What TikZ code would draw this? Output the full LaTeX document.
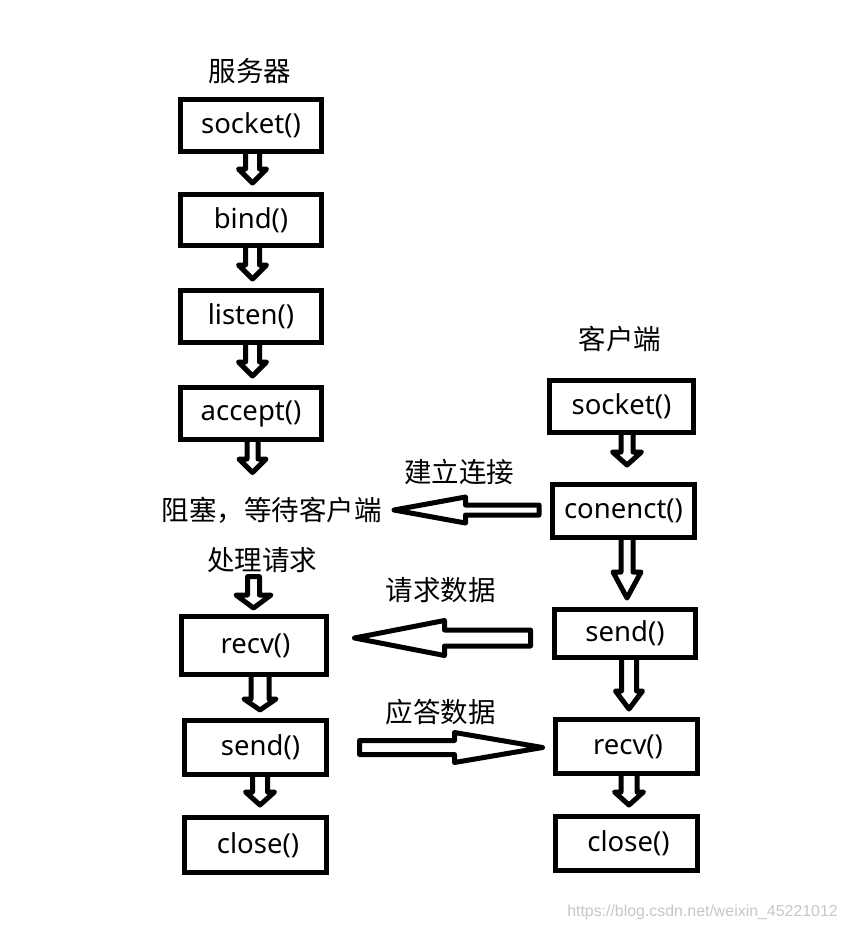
\documentclass[tikz,border=0pt]{standalone}
\usepackage{fontspec}
\setmainfont{Noto Sans}
\newfontfamily\cjk{Noto Sans CJK SC}
\newfontfamily\wmfont{Liberation Sans}
\usetikzlibrary{calc}
\tikzset{
  box/.style={draw, line width=5pt, inner sep=0pt, outer sep=0pt,
    font=\fontsize{27.5}{30}\selectfont},
  lbl/.style={inner sep=0pt, outer sep=0pt, font=\cjk\fontsize{27.5}{30}\selectfont},
  fat/.style={draw, line width=5pt, line join=round},
}
% down arrow: #1 start, #2 tip, #3 shaft half width, #4 head half width, #5 head length
\newcommand\fatdown[5]{\draw[fat] let \p1=#1, \p2=#2 in
  (\x2-#3pt,\y1) -- (\x2-#3pt,\y2+#5pt) -- (\x2-#4pt,\y2+#5pt) -- (\x2,\y2)
  -- (\x2+#4pt,\y2+#5pt) -- (\x2+#3pt,\y2+#5pt) -- (\x2+#3pt,\y1);}
\newcommand\fatdownc[5]{\draw[fat] let \p1=#1, \p2=#2 in
  (\x2-#3pt,\y1) -- (\x2-#3pt,\y2+#5pt) -- (\x2-#4pt,\y2+#5pt) -- (\x2,\y2)
  -- (\x2+#4pt,\y2+#5pt) -- (\x2+#3pt,\y2+#5pt) -- (\x2+#3pt,\y1) -- cycle;}
% horizontal arrows: #1 tail, #2 tip, #3 shaft half width, #4 head half width, #5 head length
\newcommand\fatleft[5]{\draw[fat] let \p1=#1, \p2=#2 in
  (\x1,\y2+#3pt) -- (\x2+#5pt,\y2+#3pt) -- (\x2+#5pt,\y2+#4pt) -- (\x2,\y2)
  -- (\x2+#5pt,\y2-#4pt) -- (\x2+#5pt,\y2-#3pt) -- (\x1,\y2-#3pt) -- cycle;}
\newcommand\fatright[5]{\draw[fat] let \p1=#1, \p2=#2 in
  (\x1,\y2+#3pt) -- (\x2-#5pt,\y2+#3pt) -- (\x2-#5pt,\y2+#4pt) -- (\x2,\y2)
  -- (\x2-#5pt,\y2-#4pt) -- (\x2-#5pt,\y2-#3pt) -- (\x1,\y2-#3pt) -- cycle;}
\begin{document}
\begin{tikzpicture}[x=1pt,y=-1pt]
\useasboundingbox[fill=white] (0,0) rectangle (847,930);
% server side
\node[lbl] (tsrv) at (250,71) {服务器};
\node[box, minimum width=141pt, minimum height=52pt] (s1) at (251,125.5) {socket()};
\node[box, minimum width=141pt, minimum height=51pt] (s2) at (251,220) {bind()};
\node[box, minimum width=141pt, minimum height=52pt] (s3) at (251,316.5) {listen()};
\node[box, minimum width=141pt, minimum height=52pt] (s4) at (251,413.5) {accept()};
\node[lbl] (tblock) at (271.5,510) {阻塞，等待客户端};
\node[lbl] (tproc) at (262,560) {处理请求};
\node[box, minimum width=145pt, minimum height=58pt] (s5) at (254,645.5) {\hspace*{3pt}recv()};
\node[box, minimum width=142pt, minimum height=54pt] (s6) at (255.5,747.5) {\hspace*{10pt}send()};
\node[box, minimum width=142pt, minimum height=55pt] (s7) at (255.5,845) {\hspace*{5pt}close()};
% client side
\node[lbl] (tcli) at (620,339) {客户端};
\node[box, minimum width=144pt, minimum height=52pt] (c1) at (621.5,406.5) {socket()};
\node[box, minimum width=142pt, minimum height=53pt] (c2) at (623.5,511) {conenct()};
\node[box, minimum width=141pt, minimum height=48pt] (c3) at (625,633.5) {send()};
\node[box, minimum width=142pt, minimum height=54pt] (c4) at (626.5,746.5) {\hspace*{3pt}recv()};
\node[box, minimum width=142pt, minimum height=54pt] (c5) at (626.5,843.5) {\hspace*{4pt}close()};
% middle labels
\node[lbl] (tconn) at (459,472) {建立连接};
\node[lbl] (treq) at (440.5,590) {请求数据};
\node[lbl] (tresp) at (440.5,712) {应答数据};
% watermark
\node[inner sep=0pt, text=black!22, font=\wmfont\fontsize{15.9}{18}\selectfont] (wm) at (702.5,912) {https://blog.csdn.net/weixin\_45221012};
% server down arrows
\fatdown{(s1.south)}{([xshift=1.5pt,yshift=11.5pt]s2.north)}{7}{14}{14}
\fatdown{(s2.south)}{([xshift=1.5pt,yshift=11.5pt]s3.north)}{7}{14}{14}
\fatdown{(s3.south)}{([xshift=1.5pt,yshift=11.5pt]s4.north)}{7}{14}{14}
\fatdown{(s4.south)}{([xshift=1.5pt,yshift=-33pt]s4.south)}{5.5}{13.5}{13.5}
\fatdownc{([yshift=-4pt]tproc.south)}{([xshift=-0.5pt,yshift=8.5pt]s5.north)}{6}{17.5}{13}
\fatdown{(s5.south)}{([xshift=4.5pt,yshift=10.5pt]s6.north)}{9}{16}{11}
\fatdown{(s6.south)}{([xshift=4.5pt,yshift=12.5pt]s7.north)}{7.5}{14.5}{13}
% client down arrows
\fatdown{(c1.south)}{([xshift=3.5pt,yshift=19.5pt]c2.north)}{6}{14.5}{13}
\fatdown{(c2.south)}{([xshift=2pt,yshift=11.5pt]c3.north)}{6}{14}{26}
\fatdown{(c3.south)}{([xshift=2.5pt,yshift=10.5pt]c4.north)}{7.5}{13.5}{18}
\fatdown{(c4.south)}{([xshift=2.5pt,yshift=11.5pt]c5.north)}{8}{14.5}{13}
% horizontal arrows
\fatleft{([xshift=-13.5pt,yshift=1pt]c2.west)}{([xshift=-158.5pt,yshift=1pt]c2.west)}{5}{13}{71.5}
\fatleft{([xshift=-24pt,yshift=-4.5pt]c3.west)}{([xshift=-200pt,yshift=-4.5pt]c3.west)}{8}{17.5}{90}
\fatright{([xshift=33pt]s6.east)}{([xshift=-13pt,yshift=-1pt]c4.west)}{7}{15}{88}
\end{tikzpicture}
\end{document}
